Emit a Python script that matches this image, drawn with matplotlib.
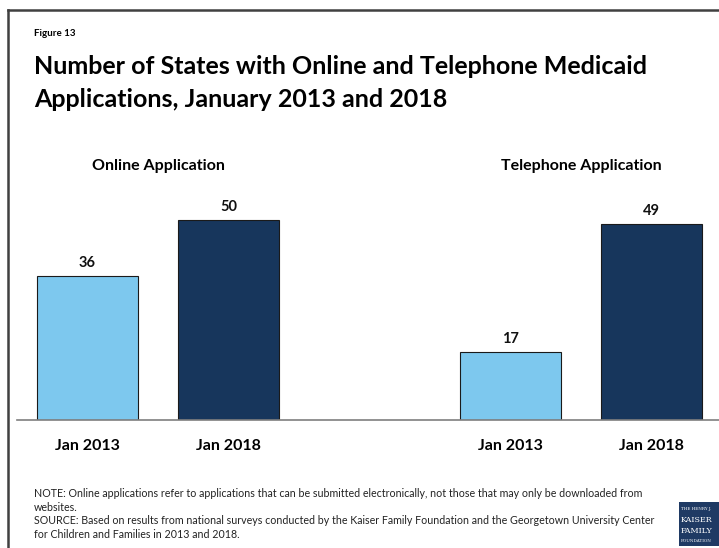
import matplotlib
matplotlib.use("Agg")
from matplotlib import pyplot as plt
from matplotlib.patches import Rectangle
from matplotlib.lines import Line2D

plt.rcParams['font.family'] = ['Lato', 'DejaVu Sans']

groups = ["Online Application", "Telephone Application"]
periods = ["Jan 2013", "Jan 2018"]
online = [36, 50]
telephone = [17, 49]

light = "#7DC8EE"
dark = "#17365C"

fig = plt.figure(figsize=(7.19, 5.48), dpi=100)
W, H = 719, 548

ax = fig.add_axes([17 / W, 128 / H, 705 / W, 240 / H])
pos = [0, 1, 3, 4]
vals = online + telephone
cols = [light, dark, light, dark]
bars = ax.bar(pos, vals, width=0.715, color=cols, edgecolor="#1a1a1a", linewidth=0.8, zorder=2)
for b, v in zip(bars, vals):
    ax.text(b.get_x() + b.get_width() / 2, v + 1.5, str(v), ha="center", va="bottom",
            fontsize=10.5, fontweight="bold", color="#111111")

ax.set_xlim(-0.5, 4.5)
ax.set_ylim(0, 60)
ax.set_xticks(pos)
ax.set_xticklabels(periods * 2, fontsize=11.5, fontweight="bold")
ax.tick_params(axis="x", length=0, pad=14)
ax.set_yticks([])
for s in ["top", "right", "left"]:
    ax.spines[s].set_visible(False)
ax.spines["bottom"].set_color("#7f7f7f")
ax.spines["bottom"].set_linewidth(1.2)

for g, cx in zip(groups, [0.5, 3.5]):
    ax.text(cx, 63.5, g, ha="center", va="center", fontsize=11.5, fontweight="bold")

# frame
fig.add_artist(Line2D([8 / W, 8 / W], [0, 1 - 10 / H], transform=fig.transFigure,
                      color="#404040", linewidth=1.8))
fig.add_artist(Line2D([8 / W, 1], [1 - 10 / H, 1 - 10 / H], transform=fig.transFigure,
                      color="#404040", linewidth=1.8))

fig.text(34 / W, 1 - 33 / H, "Figure 13", fontsize=7, fontweight="bold", va="center")
fig.text(34 / W, 1 - 83 / H, "Number of States with Online and Telephone Medicaid\nApplications, January 2013 and 2018",
         fontsize=18, fontweight="bold", va="center", linespacing=1.55)

note = ("NOTE: Online applications refer to applications that can be submitted electronically, not those that may only be downloaded from\n"
        "websites.\n"
        "SOURCE: Based on results from national surveys conducted by the Kaiser Family Foundation and the Georgetown University Center\n"
        "for Children and Families in 2013 and 2018.")
fig.text(34 / W, 1 - 514 / H, note, fontsize=7.7, va="center", linespacing=1.3, color="#222222")

# logo
fig.add_artist(Rectangle((679 / W, 2 / H), 40 / W, 44 / H, transform=fig.transFigure,
                         facecolor="#1F3A64", edgecolor="none"))
fig.text(681 / W, 1 - 509 / H, "THE HENRY J.", fontsize=3, color="white", va="center", family="DejaVu Serif")
fig.text(681 / W, 1 - 520 / H, "KAISER", fontsize=5.8, color="white", va="center", family="DejaVu Serif")
fig.text(681 / W, 1 - 531 / H, "FAMILY", fontsize=5.8, color="white", va="center", family="DejaVu Serif")
fig.text(681 / W, 1 - 541 / H, "FOUNDATION", fontsize=3, color="white", va="center", family="DejaVu Serif")

fig.savefig("out.png", dpi=100)
